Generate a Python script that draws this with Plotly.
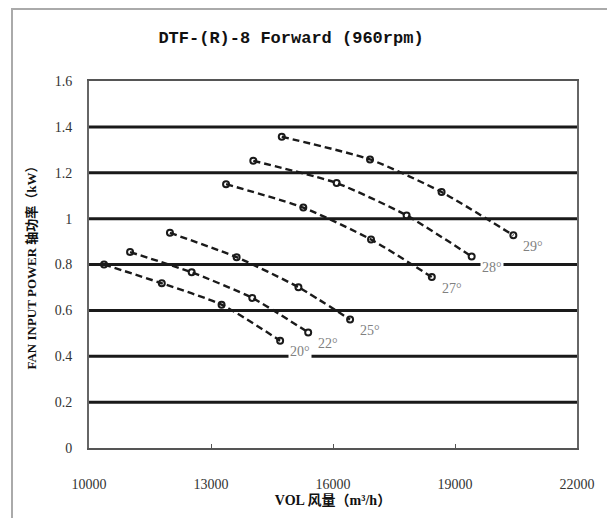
import plotly.graph_objects as go

# Data
angles = ["20°", "22°", "25°", "27°", "28°", "29°"]
vol_20 = [10370, 11790, 13260, 14700]
pow_20 = [0.80, 0.718, 0.625, 0.468]
vol_22 = [11010, 12525, 14015, 15390]
pow_22 = [0.854, 0.766, 0.654, 0.504]
vol_25 = [11990, 13630, 15150, 16420]
pow_25 = [0.938, 0.832, 0.701, 0.56]
vol_27 = [13370, 15270, 16935, 18430]
pow_27 = [1.15, 1.048, 0.909, 0.745]
vol_28 = [14040, 16090, 17810, 19410]
pow_28 = [1.252, 1.155, 1.014, 0.835]
vol_29 = [14740, 16910, 18670, 20435]
pow_29 = [1.357, 1.258, 1.116, 0.927]

x_ticks = [10000, 13000, 16000, 19000, 22000]
y_ticks = [0, 0.2, 0.4, 0.6, 0.8, 1, 1.2, 1.4, 1.6]
y_tick_text = ["0", "0.2", "0.4", "0.6", "0.8", "1", "1.2", "1.4", "1.6"]

series = [
    (angles[0], vol_20, pow_20),
    (angles[1], vol_22, pow_22),
    (angles[2], vol_25, pow_25),
    (angles[3], vol_27, pow_27),
    (angles[4], vol_28, pow_28),
    (angles[5], vol_29, pow_29),
]

SERIF = "Liberation Serif, Noto Sans CJK SC, serif"

# page body has an 8px margin; figure is sized to fit the 615x518 window
W, H, OFF = 607, 510, 8
L, T = 89 - OFF, 81 - OFF
PW, PH = 488, 366.5

fig = go.Figure()

# horizontal black gridlines at the y tick values
for yv in y_ticks[1:-1]:
    fig.add_shape(type="line", xref="paper", yref="y", x0=0, x1=1, y0=yv, y1=yv,
                  line=dict(color="#1a1a1a", width=3), layer="below")

for name, xs, ys in series:
    fig.add_trace(go.Scatter(
        x=xs, y=ys, mode="lines+markers", name=name,
        line=dict(color="#1a1a1a", width=2.4, dash="7px,4px", shape="spline", smoothing=0.6),
        marker=dict(symbol="circle-open", size=6, color="#1a1a1a", line=dict(width=2)),
        showlegend=False,
    ))
    fig.add_annotation(
        x=xs[-1], y=ys[-1], text=name, showarrow=False,
        xshift=20, yshift=-11, xanchor="center", yanchor="middle",
        font=dict(family=SERIF, size=14, color="#808080"),
        bgcolor="white", borderpad=1,
    )


def px_x(sx):
    return (sx - 89) / PW


def px_y(sy):
    return (447.5 - sy) / PH


# outer image frame: only its top and left edges fall inside the window
fig.add_annotation(
    xref="paper", yref="paper", x=px_x(11), y=px_y(8), xanchor="left", yanchor="top",
    text="&nbsp;", showarrow=False, width=640, height=540,
    bordercolor="#aaaaaa", borderwidth=2, borderpad=0, bgcolor="rgba(0,0,0,0)",
)

fig.update_layout(
    width=W, height=H,
    margin=dict(l=L, r=W - L - PW, t=T, b=round(H - T - PH), autoexpand=False),
    paper_bgcolor="white", plot_bgcolor="white",
    title=dict(text="DTF-(R)-8 Forward (960rpm)", x=(291 - OFF) / W, xanchor="center",
               y=1 - (37 - OFF) / H, yanchor="middle",
               font=dict(family="Liberation Mono, monospace", size=17, color="#111111",
                         weight="bold")),
    xaxis=dict(
        range=[10000, 22000], tickvals=x_ticks, ticktext=[str(v) for v in x_ticks],
        showgrid=False, zeroline=False, automargin=False,
        showline=True, linecolor="#555555", linewidth=2, mirror=True,
        ticks="inside", ticklen=4, tickcolor="#555555",
        tickfont=dict(family=SERIF, size=14, color="#333333"),
        ticklabelstandoff=22,
        title=dict(text="<b>VOL 风量（m³/h）</b>", standoff=4,
                   font=dict(family=SERIF, size=14, color="#111111")),
    ),
    yaxis=dict(
        range=[0, 1.6], tickvals=y_ticks, ticktext=y_tick_text,
        showgrid=False, zeroline=False, automargin=False,
        showline=True, linecolor="#666666", linewidth=2, mirror=True,
        ticks="", tickfont=dict(family=SERIF, size=14, color="#333333"),
        ticklabelstandoff=12,
        title=dict(text="<b>FAN INPUT POWER 轴功率（kW）</b>", standoff=15,
                   font=dict(family=SERIF, size=13, color="#111111")),
    ),
)

fig.write_html("out.html")
